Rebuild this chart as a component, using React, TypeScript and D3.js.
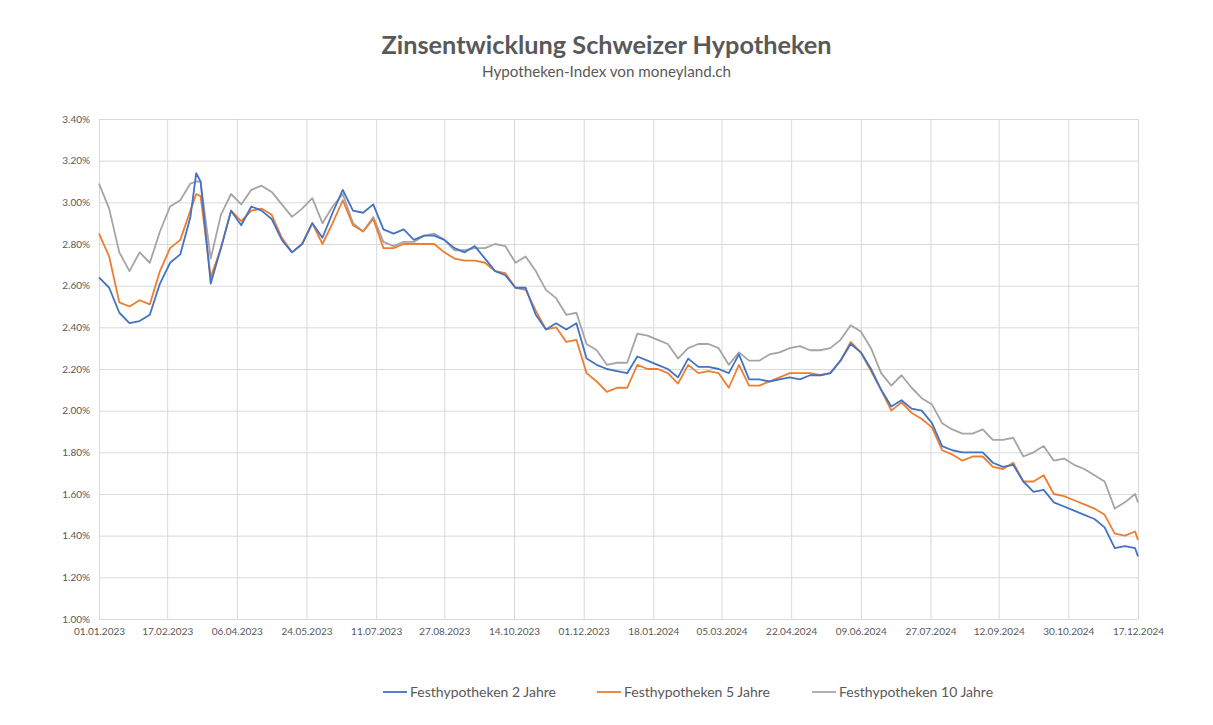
import * as d3 from "d3";
import { useEffect, useRef } from "react";

const width = 1213;
const height = 725;
const margin = { top: 119, right: 75, bottom: 106, left: 99 };

// weekly observations (plus the March 2023 peak)
const dates = [
  "2023-01-01", "2023-01-08", "2023-01-15", "2023-01-22", "2023-01-29", "2023-02-05", "2023-02-12",
  "2023-02-19", "2023-02-26", "2023-03-05", "2023-03-09", "2023-03-12", "2023-03-19", "2023-03-26",
  "2023-04-02", "2023-04-09", "2023-04-16", "2023-04-23", "2023-04-30", "2023-05-07", "2023-05-14",
  "2023-05-21", "2023-05-28", "2023-06-04", "2023-06-11", "2023-06-18", "2023-06-25", "2023-07-02",
  "2023-07-09", "2023-07-16", "2023-07-23", "2023-07-30", "2023-08-06", "2023-08-13", "2023-08-20",
  "2023-08-27", "2023-09-03", "2023-09-10", "2023-09-17", "2023-09-24", "2023-10-01", "2023-10-08",
  "2023-10-15", "2023-10-22", "2023-10-29", "2023-11-05", "2023-11-12", "2023-11-19", "2023-11-26",
  "2023-12-03", "2023-12-10", "2023-12-17", "2023-12-24", "2023-12-31", "2024-01-07", "2024-01-14",
  "2024-01-21", "2024-01-28", "2024-02-04", "2024-02-11", "2024-02-18", "2024-02-25", "2024-03-03",
  "2024-03-10", "2024-03-17", "2024-03-24", "2024-03-31", "2024-04-07", "2024-04-14", "2024-04-21",
  "2024-04-28", "2024-05-05", "2024-05-12", "2024-05-19", "2024-05-26", "2024-06-02", "2024-06-09",
  "2024-06-16", "2024-06-23", "2024-06-30", "2024-07-07", "2024-07-14", "2024-07-21", "2024-07-28",
  "2024-08-04", "2024-08-11", "2024-08-18", "2024-08-25", "2024-09-01", "2024-09-08", "2024-09-15",
  "2024-09-22", "2024-09-29", "2024-10-06", "2024-10-13", "2024-10-20", "2024-10-27", "2024-11-03",
  "2024-11-10", "2024-11-17", "2024-11-24", "2024-12-01", "2024-12-08", "2024-12-15", "2024-12-17",
];

const fest2 = [
  2.64, 2.59, 2.47, 2.42, 2.43, 2.46, 2.61, 2.71, 2.75, 2.93, 3.14, 3.1, 2.61, 2.78,
  2.96, 2.89, 2.98, 2.96, 2.92, 2.82, 2.76, 2.8, 2.9, 2.83, 2.95, 3.06, 2.96, 2.95,
  2.99, 2.87, 2.85, 2.87, 2.82, 2.84, 2.84, 2.82, 2.78, 2.76, 2.79, 2.73, 2.67, 2.65,
  2.59, 2.59, 2.46, 2.39, 2.42, 2.39, 2.42, 2.25, 2.22, 2.2, 2.19, 2.18, 2.26, 2.24,
  2.22, 2.2, 2.16, 2.25, 2.21, 2.21, 2.2, 2.18, 2.27, 2.15, 2.15, 2.14, 2.15, 2.16,
  2.15, 2.17, 2.17, 2.18, 2.24, 2.32, 2.28, 2.2, 2.1, 2.02, 2.05, 2.01, 2.0, 1.94,
  1.83, 1.81, 1.8, 1.8, 1.8, 1.75, 1.73, 1.74, 1.66, 1.61, 1.62, 1.56, 1.54, 1.52,
  1.5, 1.48, 1.44, 1.34, 1.35, 1.34, 1.3,
];

const fest5 = [
  2.85, 2.74, 2.52, 2.5, 2.53, 2.51, 2.67, 2.78, 2.82, 2.96, 3.04, 3.03, 2.64, 2.78,
  2.96, 2.91, 2.96, 2.97, 2.94, 2.83, 2.76, 2.8, 2.9, 2.8, 2.9, 3.01, 2.89, 2.86,
  2.92, 2.78, 2.78, 2.8, 2.8, 2.8, 2.8, 2.76, 2.73, 2.72, 2.72, 2.71, 2.67, 2.66,
  2.59, 2.58, 2.48, 2.39, 2.4, 2.33, 2.34, 2.18, 2.14, 2.09, 2.11, 2.11, 2.22, 2.2,
  2.2, 2.18, 2.13, 2.22, 2.18, 2.19, 2.18, 2.11, 2.22, 2.12, 2.12, 2.14, 2.16, 2.18,
  2.18, 2.18, 2.17, 2.18, 2.24, 2.33, 2.28, 2.19, 2.1, 2.0, 2.04, 1.99, 1.96, 1.92,
  1.81, 1.79, 1.76, 1.78, 1.78, 1.73, 1.72, 1.75, 1.66, 1.66, 1.69, 1.6, 1.59, 1.57,
  1.55, 1.53, 1.5, 1.41, 1.4, 1.42, 1.38,
];

const fest10 = [
  3.09, 2.97, 2.76, 2.67, 2.76, 2.71, 2.86, 2.98, 3.01, 3.09, 3.1, 3.1, 2.73, 2.94,
  3.04, 2.99, 3.06, 3.08, 3.05, 2.99, 2.93, 2.97, 3.02, 2.9, 2.98, 3.04, 2.9, 2.86,
  2.93, 2.81, 2.79, 2.81, 2.81, 2.84, 2.85, 2.82, 2.77, 2.77, 2.78, 2.78, 2.8, 2.79,
  2.71, 2.74, 2.67, 2.58, 2.54, 2.46, 2.47, 2.32, 2.29, 2.22, 2.23, 2.23, 2.37, 2.36,
  2.34, 2.32, 2.25, 2.3, 2.32, 2.32, 2.3, 2.22, 2.28, 2.24, 2.24, 2.27, 2.28, 2.3,
  2.31, 2.29, 2.29, 2.3, 2.34, 2.41, 2.38, 2.3, 2.18, 2.12, 2.17, 2.11, 2.06, 2.03,
  1.94, 1.91, 1.89, 1.89, 1.91, 1.86, 1.86, 1.87, 1.78, 1.8, 1.83, 1.76, 1.77, 1.74,
  1.72, 1.69, 1.66, 1.53, 1.56, 1.6, 1.56,
];

const seriesNames = ["Festhypotheken 2 Jahre", "Festhypotheken 5 Jahre", "Festhypotheken 10 Jahre"];
const seriesColors = ["#4472C4", "#ED7D31", "#A5A5A5"];

const xTickLabels = [
  "01.01.2023", "17.02.2023", "06.04.2023", "24.05.2023", "11.07.2023", "27.08.2023",
  "14.10.2023", "01.12.2023", "18.01.2024", "05.03.2024", "22.04.2024", "09.06.2024",
  "27.07.2024", "12.09.2024", "30.10.2024", "17.12.2024",
];
const yTickValues = [1.0, 1.2, 1.4, 1.6, 1.8, 2.0, 2.2, 2.4, 2.6, 2.8, 3.0, 3.2, 3.4];

const font = "Lato, 'Open Sans', sans-serif";
const textColor = "#595959";

function drawChart(node: SVGSVGElement) {
  const svg = d3.select(node);
  svg.selectAll("*").remove();

  const plotW = width - margin.left - margin.right;
  const plotH = height - margin.top - margin.bottom;
  const parseIso = d3.utcParse("%Y-%m-%d");
  const parseTick = d3.utcParse("%d.%m.%Y");
  const xDates = dates.map((d) => parseIso(d) as Date);
  const tickDates = xTickLabels.map((d) => parseTick(d) as Date);

  const x = d3
    .scaleUtc()
    .domain([tickDates[0], tickDates[tickDates.length - 1]])
    .range([0, plotW]);
  const y = d3.scaleLinear().domain([1.0, 3.4]).range([plotH, 0]);

  const chart = svg
    .append("g")
    .attr("transform", `translate(${margin.left},${margin.top})`);

  // y gridlines + labels
  const yAxis = chart
    .append("g")
    .call(
      d3
        .axisLeft(y)
        .tickValues(yTickValues)
        .tickSize(-plotW)
        .tickPadding(9)
        .tickFormat((d) => (d as number).toFixed(2) + "%")
    );
  yAxis.select(".domain").remove();
  yAxis.selectAll("line").attr("stroke", "#d9d9d9").attr("stroke-width", 1);
  yAxis
    .selectAll("text")
    .attr("fill", textColor)
    .style("font-family", font)
    .style("font-size", "10px");

  // x gridlines + labels
  const xAxis = chart
    .append("g")
    .attr("transform", `translate(0,${plotH})`)
    .call(
      d3
        .axisBottom(x)
        .tickValues(tickDates)
        .tickSize(-plotH)
        .tickPadding(9)
        .tickFormat((d, i) => xTickLabels[i])
    );
  xAxis.select(".domain").remove();
  xAxis.selectAll("line").attr("stroke", "#d9d9d9").attr("stroke-width", 1);
  xAxis
    .selectAll("text")
    .attr("fill", textColor)
    .style("font-family", font)
    .style("font-size", "10px");

  const allSeries = [fest2, fest5, fest10];
  const line = d3
    .line<number>()
    .x((d, i) => x(xDates[i]))
    .y((d) => y(d));

  // draw 10y first so the short rates sit on top
  [2, 1, 0].forEach((s) => {
    chart
      .append("path")
      .datum(allSeries[s])
      .attr("fill", "none")
      .attr("stroke", seriesColors[s])
      .attr("stroke-width", 1.8)
      .attr("stroke-linejoin", "round")
      .attr("d", line);
  });

  // title
  svg
    .append("text")
    .attr("x", width / 2)
    .attr("y", 54)
    .attr("text-anchor", "middle")
    .style("font-family", font)
    .style("font-weight", "bold")
    .style("font-size", "25.3px")
    .style("fill", textColor)
    .text("Zinsentwicklung Schweizer Hypotheken");

  svg
    .append("text")
    .attr("x", width / 2)
    .attr("y", 77)
    .attr("text-anchor", "middle")
    .style("font-family", font)
    .style("font-size", "15.2px")
    .style("fill", textColor)
    .text("Hypotheken-Index von moneyland.ch");

  // legend
  const legendX = [383, 597, 812];
  seriesNames.forEach((name, i) => {
    const g = svg.append("g").attr("transform", `translate(${legendX[i]},692)`);
    g.append("line")
      .attr("x1", 0)
      .attr("x2", 24)
      .attr("y1", 0)
      .attr("y2", 0)
      .attr("stroke", seriesColors[i])
      .attr("stroke-width", 1.8);
    g.append("text")
      .attr("x", 27)
      .attr("y", 5)
      .style("font-family", font)
      .style("font-size", "14px")
      .style("fill", textColor)
      .text(name);
  });
}

export default function App() {
  const ref = useRef<SVGSVGElement>(null);

  useEffect(() => {
    if (ref.current) drawChart(ref.current);
  }, []);

  return (
    <svg
      ref={ref}
      width={width}
      height={height}
      style={{ position: "absolute", left: 0, top: 0, background: "#fff" }}
    />
  );
}
